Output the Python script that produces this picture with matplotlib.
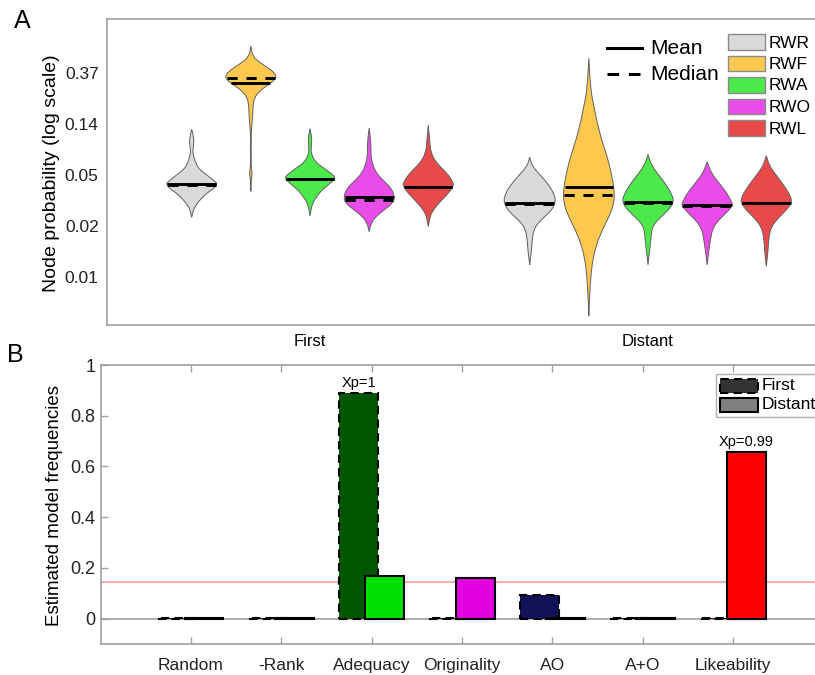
import numpy as np
import matplotlib
matplotlib.use("Agg")

import matplotlib.pyplot as plt
from matplotlib.patches import Rectangle, PathPatch
from matplotlib.path import Path
from matplotlib.lines import Line2D

plt.rcParams['font.family'] = ['Liberation Sans', 'DejaVu Sans']

W, H = 815, 675

# ---- panel A: node probabilities (natural log) ----
models = ['RWR', 'RWF', 'RWA', 'RWO', 'RWL']
model_colors = ['#dadada', '#fdc84e', '#4ce84c', '#ea4cea', '#e84a4a']
groups = ['First', 'Distant']

# violin outlines: log-probability levels (top to bottom) and relative half-width
first_levels = [
    [-2.11, -2.24, -2.35, -2.47, -2.58, -2.78, -2.91, -3.04, -3.14, -3.18, -3.27, -3.36, -3.50, -3.63, -3.73, -3.84],
    [-0.48, -0.69, -0.82, -0.95, -1.05, -1.14, -1.24, -1.37, -1.50, -1.67, -1.86, -2.06, -2.25, -2.78, -2.90, -2.97, -3.05, -3.17, -3.33],
    [-2.10, -2.22, -2.32, -2.45, -2.58, -2.75, -2.87, -2.99, -3.07, -3.17, -3.30, -3.43, -3.56, -3.69, -3.81],
    [-2.09, -2.38, -2.65, -2.78, -2.97, -3.14, -3.27, -3.43, -3.56, -3.69, -3.82, -3.95, -4.12],
    [-2.03, -2.32, -2.58, -2.78, -2.97, -3.14, -3.22, -3.36, -3.53, -3.69, -3.82, -4.02],
]
first_widths = [
    [0, 0.06, 0.09, 0.06, 0.04, 0.16, 0.32, 0.68, 0.92, 1.0, 0.88, 0.60, 0.32, 0.12, 0.05, 0],
    [0, 0.07, 0.40, 0.80, 1.0, 0.96, 0.67, 0.33, 0.13, 0.08, 0.07, 0.03, 0.012, 0.012, 0.03, 0.05, 0.03, 0.01, 0],
    [0, 0.05, 0.07, 0.05, 0.04, 0.20, 0.53, 0.87, 1.0, 0.80, 0.47, 0.27, 0.10, 0.04, 0],
    [0, 0.07, 0.07, 0.13, 0.27, 0.60, 0.87, 1.0, 0.93, 0.60, 0.27, 0.08, 0],
    [0, 0.05, 0.10, 0.33, 0.73, 0.96, 1.0, 0.80, 0.47, 0.20, 0.07, 0],
]
distant_levels = [
    [-2.66, -2.84, -3.04, -3.24, -3.43, -3.56, -3.69, -3.82, -3.95, -4.08, -4.28, -4.48, -4.64, -4.77],
    [-0.72, -1.34, -1.67, -1.99, -2.32, -2.65, -2.97, -3.30, -3.56, -3.82, -4.08, -4.41, -4.74, -5.06, -5.39, -5.77],
    [-2.61, -2.84, -3.04, -3.24, -3.43, -3.53, -3.66, -3.82, -3.99, -4.15, -4.35, -4.54, -4.77],
    [-2.75, -2.97, -3.17, -3.36, -3.53, -3.61, -3.76, -3.92, -4.08, -4.28, -4.48, -4.77],
    [-2.63, -2.84, -3.04, -3.24, -3.43, -3.55, -3.69, -3.85, -4.02, -4.22, -4.48, -4.80],
]
distant_widths = [
    [0, 0.10, 0.47, 0.80, 1.0, 1.0, 0.87, 0.60, 0.33, 0.16, 0.10, 0.07, 0.03, 0],
    [0, 0.07, 0.20, 0.33, 0.50, 0.72, 0.88, 1.0, 0.99, 0.80, 0.53, 0.27, 0.13, 0.07, 0.03, 0],
    [0, 0.16, 0.47, 0.77, 0.97, 1.0, 0.87, 0.53, 0.20, 0.13, 0.10, 0.05, 0],
    [0, 0.16, 0.47, 0.77, 0.96, 1.0, 0.73, 0.40, 0.20, 0.13, 0.07, 0],
    [0, 0.13, 0.43, 0.73, 0.96, 1.0, 0.80, 0.47, 0.20, 0.10, 0.07, 0],
]
first_mean = [-3.18, -1.20, -3.08, -3.44, -3.24]
first_median = [-3.20, -1.11, -3.09, -3.50, -3.25]
distant_mean = [-3.56, -3.24, -3.54, -3.60, -3.55]
distant_median = [-3.57, -3.41, -3.55, -3.61, -3.56]
ytick_logs = [-1, -2, -3, -4, -5]

# ---- panel B: estimated model frequencies ----
conditions = ['Random', '-Rank', 'Adequacy', 'Originality', 'AO', 'A+O', 'Likeability']
first_freq = [0.002, 0.002, 0.891, 0.002, 0.095, 0.002, 0.002]
distant_freq = [0.002, 0.002, 0.170, 0.160, 0.002, 0.002, 0.656]
first_colors = ['#333333', '#333333', '#005500', '#550055', '#121258', '#333333', '#550000']
distant_colors = ['#808080', '#808080', '#00e000', '#e000e0', '#2020a0', '#808080', '#ff0000']
xp_labels = ['', '', 'Xp=1', '', '', '', 'Xp=0.99']
chance = 1 / 7

axis_gray = '#a0a0a0'


def fx(px):
    return px / W


def fy(py):
    return 1 - py / H


def smooth_side(pts):
    # quadratic bezier through the midpoints, knots act as control points
    verts = [pts[0], (pts[0] + pts[1]) / 2]
    codes = [Path.LINETO, Path.LINETO]
    for i in range(1, len(pts) - 1):
        verts += [pts[i], (pts[i] + pts[i + 1]) / 2]
        codes += [Path.CURVE3, Path.CURVE3]
    verts.append(pts[-1])
    codes.append(Path.LINETO)
    return verts, codes


def violin(ax, xc, levels, widths, color):
    lv = np.array(levels)
    wd = np.array(widths)
    right = np.column_stack([xc + wd, lv])
    left = np.column_stack([xc - wd, lv])[::-1]
    v1, c1 = smooth_side(right)
    v2, c2 = smooth_side(left)
    verts = v1 + v2 + [right[0]]
    codes = [Path.MOVETO] + c1[1:] + c2 + [Path.CLOSEPOLY]
    ax.add_patch(PathPatch(Path(verts, codes), facecolor=color,
                           edgecolor='#606060', linewidth=0.7, zorder=2))


fig = plt.figure(figsize=(W / 100, H / 100), dpi=100)

# ---------------- panel A ----------------
ax1 = fig.add_axes([fx(107), fy(325), fx(830 - 107), (325 - 19) / H])
group_x = [1.0, 2.0]
step = 0.175
half = 25.5 / 338

for g, (levels, widths, means, medians) in enumerate([
        (first_levels, first_widths, first_mean, first_median),
        (distant_levels, distant_widths, distant_mean, distant_median)]):
    for k in range(len(models)):
        xc = group_x[g] + (k - 2) * step
        lv = np.array(levels[k])
        wd = np.array(widths[k]) * half
        violin(ax1, xc, lv, wd, model_colors[k])
        for val, ls in [(means[k], '-'), (medians[k], '--')]:
            hw = np.interp(val, lv[::-1], wd[::-1]) * 0.97
            line = ax1.plot([xc - hw, xc + hw], [val, val], color='black',
                            lw=2.1, ls=ls, zorder=3, solid_capstyle='butt')[0]
            if ls == '--':
                line.set_dashes((3.5, 3.0))

ax1.set_xlim(0.3994, 1.0 + (830 - 310) / 338)
ax1.set_ylim(-5.95, 0.05)
ax1.set_yticks(ytick_logs)
ax1.set_yticklabels(['%.2f' % np.exp(v) for v in ytick_logs])
ax1.set_xticks([])
ax1.tick_params(axis='y', length=0, labelsize=12.5, pad=6, labelcolor='#222222')
for s in ax1.spines.values():
    s.set_color(axis_gray)
    s.set_linewidth(1.2)
for g, name in enumerate(groups):
    ax1.text(group_x[g], -6.28, name, ha='center', va='center', fontsize=12)

fig.text(fx(52), fy(173), 'Node probability (log scale)', rotation=90,
         ha='center', va='center', fontsize=14)
fig.text(fx(22), fy(21), 'A', ha='center', va='center', fontsize=18)

# mean / median key
fig.add_artist(Line2D([fx(607), fx(642)], [fy(48), fy(48)], color='black', lw=2.2))
dash = Line2D([fx(607), fx(645)], [fy(74), fy(74)], color='black', lw=2.2)
dash.set_dashes((3.8, 3.2))
fig.add_artist(dash)
fig.text(fx(650), fy(48), 'Mean', ha='left', va='center', fontsize=15)
fig.text(fx(650), fy(74), 'Median', ha='left', va='center', fontsize=15)

# model colour key
for k, name in enumerate(models):
    yc = 42 + k * 21.5
    fig.add_artist(Rectangle((fx(728), fy(yc + 7.5)), fx(37), 15 / H,
                             facecolor=model_colors[k], edgecolor='#8a8a8a', lw=1.0))
    fig.text(fx(769), fy(yc + 1), name, ha='left', va='center', fontsize=12.5)

# ---------------- panel B ----------------
ax2 = fig.add_axes([fx(100.5), fy(644), fx(723), (644 - 365) / H])
x = np.arange(1, len(conditions) + 1)
bw = 0.43
off = 0.145

ax2.axhline(0, color=axis_gray, lw=1.2, zorder=1)
ax2.axhline(chance, color='#f4a0a0', lw=1.2, zorder=1)

ax2.bar(x - off, first_freq, width=bw, color=first_colors, edgecolor='black',
        linewidth=1.5, linestyle=(0, (4, 2.5)), zorder=2)
ax2.bar(x + off, distant_freq, width=bw, color=distant_colors, edgecolor='black',
        linewidth=1.5, zorder=3)

for i, lab in enumerate(xp_labels):
    if not lab:
        continue
    if first_freq[i] >= distant_freq[i]:
        xt, top = x[i] - off, first_freq[i]
    else:
        xt, top = x[i] + off, distant_freq[i]
    ax2.text(xt, top + 0.012, lab, ha='center', va='bottom', fontsize=10.5)

ax2.set_xlim(0, 8)
ax2.set_ylim(-0.1, 1.0)
ax2.set_xticks(x)
ax2.set_xticklabels(conditions)
ax2.set_yticks([0, 0.2, 0.4, 0.6, 0.8, 1.0])
ax2.set_yticklabels(['0', '0.2', '0.4', '0.6', '0.8', '1'])
ax2.tick_params(direction='in', length=5, width=1, color=axis_gray,
                top=True, right=True, labelsize=13, labelcolor='#222222')
ax2.tick_params(axis='x', labelsize=12.5, pad=10)
for s in ax2.spines.values():
    s.set_color(axis_gray)
    s.set_linewidth(1.2)

fig.text(fx(55), fy(506), 'Estimated model frequencies', rotation=90,
         ha='center', va='center', fontsize=13.5)
fig.text(fx(15), fy(355), 'B', ha='center', va='center', fontsize=18)

# first / distant key
fig.add_artist(Rectangle((fx(716), fy(417)), fx(110), 43 / H, facecolor='white',
                         edgecolor='#b0b0b0', lw=1.0, zorder=5))
key_first = Rectangle((fx(720), fy(393)), fx(38), 14 / H, facecolor='#333333',
                      edgecolor='black', lw=1.5, linestyle=(0, (4, 2.5)), zorder=6)
key_dist = Rectangle((fx(720), fy(411.5)), fx(38), 14 / H, facecolor='#808080',
                     edgecolor='black', lw=1.5, zorder=6)
fig.add_artist(key_first)
fig.add_artist(key_dist)
fig.text(fx(762), fy(386), 'First', ha='left', va='center', fontsize=12.5, zorder=7)
fig.text(fx(762), fy(404.5), 'Distant', ha='left', va='center', fontsize=12.5, zorder=7)

fig.savefig('out.png', dpi=100)
